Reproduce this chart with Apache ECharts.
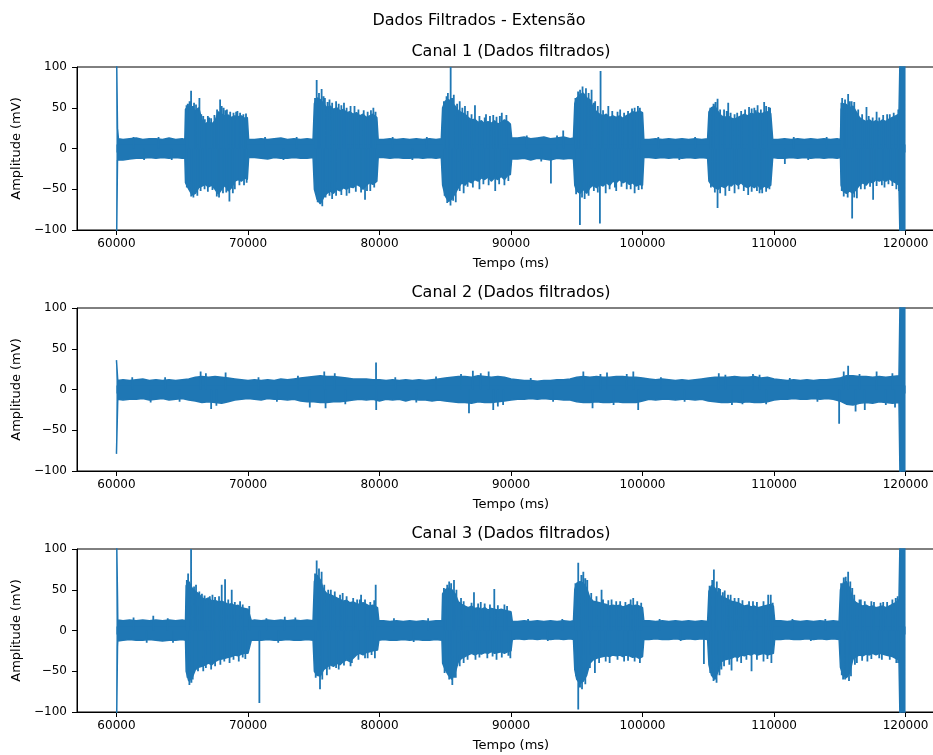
<!DOCTYPE html>
<html><head><meta charset="utf-8">
<script src="https://cdn.jsdelivr.net/npm/echarts@6/dist/echarts.min.js"></script>
<style>html,body{margin:0;padding:0;background:#fff;overflow:hidden;width:933px;height:755px}#c{width:960px;height:755px}</style>
</head><body><div id="c"></div>
<script>
// ---------- data ----------
const xTicks = [60000, 70000, 80000, 90000, 100000, 110000, 120000];
const yTicks = [-100, -50, 0, 50, 100];
const tituloGeral = 'Dados Filtrados - Extensão';
const titulosCanais = ['Canal 1 (Dados filtrados)', 'Canal 2 (Dados filtrados)', 'Canal 3 (Dados filtrados)'];
const rotuloX = 'Tempo (ms)';
const rotuloY = 'Amplitude (mV)';

// envelope of each channel: [tempo ms, máximo mV, mínimo mV]
const canal1 = [
[60000,130,-130],[60060,130,-130],[60080,25,-14],[60150,12,-14],[60500,11,-14],[61000,12,-13],[61500,13,-12],[62000,11,-12],[62500,12,-11],[63000,12,-12],[63500,11,-11],[64000,13,-12],[64500,11,-11],[65000,12,-12],[65200,11,-11],
[65250,48,-42],[65500,52,-50],[65750,50,-57],[66000,46,-55],[66250,50,-48],[66500,35,-46],[66750,30,-44],[67000,33,-47],[67250,30,-45],[67500,34,-50],[67750,45,-56],[68000,42,-50],[68250,40,-45],[68500,41,-52],[68750,38,-48],[69000,40,-40],[69250,39,-38],[69500,40,-40],[69750,37,-36],[69950,38,-38],
[70050,11,-11],[70500,11,-11],[71000,12,-12],[71500,11,-13],[72000,12,-11],[72500,13,-12],[73000,11,-12],[73500,12,-11],[74000,11,-12],[74500,12,-12],[74950,11,-11],
[75050,55,-50],[75250,62,-62],[75500,60,-68],[75750,55,-60],[76000,50,-55],[76250,52,-52],[76500,48,-55],[76750,50,-50],[77000,46,-52],[77250,48,-48],[77500,44,-50],[77750,45,-47],[78000,42,-48],[78250,44,-44],[78500,40,-46],[78750,42,-50],[79000,38,-45],[79250,40,-42],[79500,42,-44],[79800,38,-40],
[79900,11,-11],[80300,11,-11],[80800,12,-12],[81300,11,-11],[81800,12,-12],[82300,11,-12],[82800,12,-11],[83300,11,-12],[83800,12,-11],[84300,11,-12],[84700,12,-11],
[84800,50,-45],[85000,58,-58],[85250,60,-65],[85500,56,-62],[85750,52,-55],[86000,46,-48],[86250,44,-42],[86500,42,-45],[86750,38,-40],[87000,35,-42],[87250,36,-38],[87500,32,-40],[87750,34,-36],[88000,30,-38],[88250,33,-35],[88500,31,-40],[88750,34,-36],[89000,30,-38],[89250,32,-34],[89500,35,-38],[89750,33,-33],[89950,30,-32],
[90050,13,-13],[90500,13,-13],[91000,14,-12],[91500,12,-14],[92000,13,-12],[92500,14,-13],[93000,12,-14],[93500,13,-12],[94000,14,-13],[94500,12,-12],[94750,13,-13],
[94850,55,-45],[95000,62,-52],[95250,66,-55],[95500,68,-50],[95750,62,-55],[96000,60,-48],[96250,50,-45],[96500,45,-48],[96750,42,-44],[97000,40,-46],[97250,42,-42],[97500,38,-45],[97750,40,-40],[98000,38,-42],[98250,40,-38],[98500,37,-42],[98750,40,-40],[99000,42,-44],[99250,45,-42],[99500,44,-46],[99750,46,-44],[100000,44,-45],
[100100,11,-11],[100500,11,-11],[101000,12,-12],[101500,11,-11],[102000,12,-12],[102500,11,-11],[103000,12,-12],[103500,11,-11],[104000,12,-12],[104500,11,-11],[104950,12,-12],
[105050,45,-40],[105250,50,-45],[105500,52,-48],[105750,45,-50],[106000,40,-46],[106250,38,-48],[106500,40,-44],[106750,37,-46],[107000,36,-42],[107250,38,-45],[107500,40,-42],[107750,42,-46],[108000,40,-48],[108250,43,-45],[108500,42,-48],[108750,44,-44],[109000,42,-50],[109250,44,-46],[109500,45,-48],[109750,43,-45],
[109900,11,-11],[110300,11,-12],[110800,12,-12],[111300,11,-11],[111800,12,-12],[112300,11,-11],[112800,12,-12],[113300,11,-11],[113800,12,-12],[114300,11,-11],[114800,12,-12],[115050,11,-11],
[115100,48,-45],[115250,55,-52],[115500,54,-55],[115750,50,-52],[116000,52,-55],[116250,45,-50],[116500,38,-45],[116750,35,-42],[117000,33,-45],[117250,35,-40],[117500,32,-42],[117750,34,-38],[118000,32,-40],[118250,35,-38],[118500,33,-40],[118750,36,-37],[119000,38,-40],[119250,40,-42],[119500,42,-45],[119590,42,-45],
[119600,130,-130],[120000,130,-130]
];
const canal2 = [
[60000,36,-79],[60060,36,-79],[60100,11,-12],[60500,12,-13],[61000,11,-12],[61500,12,-12],[62000,13,-11],[62500,11,-13],[63000,12,-12],[63500,11,-11],[64000,12,-13],[64500,11,-12],[65000,12,-11],
[65500,13,-13],[66000,15,-14],[66500,16,-16],[67000,15,-15],[67500,16,-16],[68000,15,-17],[68500,14,-15],[69000,13,-13],[69500,12,-12],[70000,11,-11],[70500,12,-12],[71000,11,-13],[71500,12,-11],[72000,11,-12],[72500,13,-12],[73000,12,-13],[73500,13,-12],
[74000,14,-14],[74500,15,-15],[75000,16,-15],[75500,17,-16],[76000,16,-16],[76500,16,-15],[77000,15,-15],[77500,14,-14],[78000,13,-13],[78500,13,-12],[79000,13,-13],[79500,12,-12],[80000,12,-14],[80500,11,-12],[81000,12,-13],[81500,11,-12],[82000,12,-14],[82500,11,-12],[83000,12,-13],[83500,11,-13],[84000,12,-14],[84500,13,-13],
[85000,14,-14],[85500,15,-15],[86000,16,-16],[86500,16,-16],[87000,15,-17],[87500,17,-15],[88000,16,-16],[88500,15,-16],[89000,16,-15],[89500,15,-14],[90000,13,-13],[90500,12,-12],[91000,11,-12],[91500,11,-11],[92000,10,-12],[92500,11,-11],[93000,11,-12],[93500,12,-12],[94000,12,-13],[94500,13,-13],
[95000,15,-15],[95500,16,-16],[96000,15,-16],[96500,16,-15],[97000,15,-16],[97500,15,-16],[98000,16,-15],[98500,16,-16],[99000,15,-16],[99500,15,-16],[100000,14,-14],[100500,13,-12],[101000,12,-13],[101500,13,-12],[102000,12,-12],[102500,11,-13],[103000,12,-12],[103500,11,-12],[104000,12,-13],[104500,13,-12],
[105000,14,-14],[105500,15,-15],[106000,15,-16],[106500,15,-16],[107000,16,-15],[107500,15,-16],[108000,15,-15],[108500,16,-16],[109000,14,-16],[109500,15,-15],[110000,13,-13],[110500,12,-12],[111000,11,-12],[111500,12,-11],[112000,11,-12],[112500,12,-12],[113000,11,-11],[113500,12,-12],[114000,12,-11],[114500,13,-12],
[115000,14,-14],[115500,17,-18],[116000,17,-19],[116500,16,-17],[117000,16,-16],[117500,15,-17],[118000,16,-15],[118500,15,-16],[119000,16,-17],[119500,17,-16],[119590,16,-16],
[119600,130,-130],[120000,130,-130]
];
const canal3 = [
[60000,130,-130],[60060,130,-130],[60080,42,-20],[60100,13,-13],[60500,12,-12],[61000,13,-11],[61500,12,-12],[62000,13,-12],[62500,12,-11],[63000,13,-12],[63500,12,-13],[64000,13,-12],[64500,12,-12],[65000,13,-11],[65250,12,-12],
[65300,55,-50],[65500,60,-62],[65750,52,-58],[66000,48,-48],[66250,45,-45],[66500,40,-44],[66750,38,-42],[67000,40,-40],[67250,36,-42],[67500,37,-38],[67750,35,-36],[68000,36,-35],[68250,34,-34],[68500,32,-33],[68750,33,-32],[69000,30,-30],[69250,31,-31],[69500,28,-29],[69750,27,-28],[70000,26,-28],[70150,25,-26],
[70250,12,-12],[70500,13,-12],[71000,12,-12],[71500,13,-11],[72000,12,-12],[72500,13,-12],[73000,12,-11],[73500,13,-12],[74000,12,-12],[74500,13,-11],[74950,12,-12],
[75050,60,-50],[75250,68,-55],[75500,62,-56],[75750,50,-48],[76000,45,-45],[76250,44,-42],[76500,42,-44],[76750,40,-40],[77000,38,-42],[77250,36,-38],[77500,37,-36],[77750,34,-38],[78000,35,-34],[78250,33,-30],[78500,32,-28],[78750,34,-30],[79000,32,-27],[79250,30,-26],[79500,31,-25],[79850,28,-24],
[79950,12,-12],[80300,12,-11],[80800,11,-12],[81300,12,-12],[81800,11,-11],[82300,12,-12],[82800,11,-11],[83300,12,-12],[83800,11,-12],[84300,12,-11],[84750,12,-12],
[84800,45,-40],[85000,50,-48],[85250,52,-55],[85500,50,-60],[85750,45,-52],[86000,35,-38],[86250,32,-34],[86500,30,-32],[86750,28,-30],[87000,30,-28],[87250,27,-30],[87500,28,-28],[87750,26,-29],[88000,28,-27],[88250,25,-28],[88500,27,-26],[88750,26,-28],[89000,25,-27],[89250,26,-26],[89500,25,-28],[89750,24,-26],[90000,23,-25],
[90100,11,-11],[90500,11,-10],[91000,12,-11],[91500,11,-10],[92000,12,-11],[92500,11,-10],[93000,12,-11],[93500,11,-10],[94000,12,-11],[94500,11,-10],[94750,12,-11],
[94850,50,-48],[95000,58,-60],[95250,60,-65],[95500,58,-62],[95750,52,-55],[96000,40,-40],[96250,36,-36],[96500,35,-34],[96750,34,-33],[97000,33,-32],[97250,32,-31],[97500,30,-32],[97750,31,-30],[98000,30,-31],[98250,31,-30],[98500,29,-32],[98750,30,-30],[99000,32,-31],[99250,30,-33],[99500,31,-32],[99750,30,-34],[100000,28,-32],
[100100,12,-11],[100500,12,-11],[101000,11,-10],[101500,12,-11],[102000,11,-11],[102500,12,-10],[103000,11,-11],[103500,12,-10],[104000,11,-11],[104500,12,-10],[104950,11,-11],
[105050,48,-42],[105250,55,-55],[105500,52,-60],[105750,45,-50],[106000,42,-38],[106250,40,-36],[106500,38,-35],[106750,36,-34],[107000,35,-32],[107250,34,-33],[107500,32,-30],[107750,30,-31],[108000,31,-29],[108250,29,-30],[108500,30,-28],[108750,28,-30],[109000,29,-29],[109250,30,-28],[109500,31,-30],[109750,32,-29],[109950,30,-28],
[110050,12,-11],[110500,12,-11],[111000,11,-10],[111500,12,-11],[112000,11,-11],[112500,12,-10],[113000,11,-11],[113500,12,-10],[114000,11,-11],[114500,12,-10],[114950,11,-11],
[115050,50,-45],[115250,58,-55],[115500,60,-58],[115750,52,-52],[116000,38,-35],[116250,34,-32],[116500,32,-30],[116750,30,-31],[117000,31,-29],[117250,29,-30],[117500,30,-28],[117750,28,-30],[118000,29,-28],[118250,30,-29],[118500,28,-30],[118750,30,-31],[119000,32,-32],[119250,34,-34],[119500,38,-36],[119590,38,-36],
[119600,130,-130],[120000,130,-130]
];

// isolated peaks: [tempo ms, valor mV]
const picos1 = [
[65420,55],[65674,71],[65900,56],[66308,62],[66600,40],[67050,38],[67882,60],[68150,50],[68400,48],[69200,46],[69650,42],[65680,-59],[66150,-58],[67630,-59],[68590,-65],[69000,-50],[69700,-45],
[65330,53],[65560,58],[65780,52],[66050,54],[66450,42],[66720,36],[66950,40],[67200,37],[67450,41],[67650,48],[68000,52],[68300,47],[68650,45],[68900,44],[69100,45],[69400,44],[69850,43],
[65350,-48],[65850,-60],[66400,-52],[66700,-50],[66950,-53],[67300,-51],[67800,-60],[68100,-55],[68350,-54],[68850,-55],[69350,-45],[69900,-42],
[75224,84],[75600,73],[75850,62],[76200,60],[76700,58],[77300,56],[78100,52],[79535,50],[75650,-71],[76400,-62],[77500,-58],[78900,-63],[79300,-52],
[75100,62],[75400,68],[75750,64],[76050,57],[76400,56],[76900,55],[77100,53],[77500,50],[77800,52],[78400,48],[78800,47],[79100,45],[79350,47],[79700,45],
[75300,-66],[75900,-60],[76200,-58],[76700,-58],[77100,-57],[77700,-55],[78200,-53],[78600,-54],[79050,-52],[79600,-48],
[85412,100],[85200,68],[85650,66],[86100,58],[86500,52],[87260,53],[88100,42],[88650,41],[89300,44],[85400,-70],[85800,-66],[86400,-55],[87600,-50],[88800,-52],[89500,-45],
[84900,58],[85100,64],[85550,62],[85900,55],[86300,50],[86700,46],[87000,42],[87600,40],[88000,38],[88400,40],[88900,39],[89150,40],[89650,41],
[84950,-58],[85150,-67],[85600,-64],[86100,-52],[86700,-47],[87100,-48],[87900,-44],[88300,-45],[89100,-44],[89800,-40],
[93036,-43],[93970,22],
[95100,70],[95440,76],[95700,74],[96127,72],[96400,58],[96810,95],[97400,52],[98300,48],[99200,49],[99800,50],[95240,-94],[95600,-62],[96760,-92],[97200,-55],[98000,-52],[98800,-50],[99400,-55],
[94900,62],[95250,72],[95900,68],[96300,56],[96600,52],[97000,47],[97700,46],[98100,45],[98600,44],[98900,46],[99400,50],[99650,52],
[94950,-56],[95400,-60],[95900,-58],[96300,-52],[96600,-54],[97500,-50],[97900,-48],[98400,-47],[99100,-50],[99700,-51],[99950,-50],
[105706,61],[105400,55],[106516,56],[106200,48],[107200,44],[108100,51],[108500,50],[108750,53],[109250,57],[109600,51],[105706,-73],[106300,-58],[107000,-55],[108036,-57],[108900,-55],[109400,-53],
[105150,50],[105550,57],[105900,48],[106400,46],[106700,44],[107000,42],[107500,46],[107800,48],[108300,49],[108600,47],[109000,48],[109400,52],[109700,50],
[105200,-48],[105500,-54],[105900,-55],[106600,-52],[107300,-50],[107700,-52],[108300,-53],[108700,-52],[109100,-55],[109650,-50],
[110823,-19],
[115180,62],[115635,67],[115900,58],[117030,51],[117800,45],[118600,42],[115940,-86],[115300,-59],[116300,-61],[117535,-63],[118400,-48],[119300,-50],
[115120,56],[115400,60],[115750,58],[116100,57],[116400,48],[116700,42],[117200,40],[117500,38],[118000,38],[118300,41],[118800,42],[119100,44],[119450,48],
[115150,-52],[115600,-60],[116100,-60],[116600,-50],[116900,-50],[117300,-47],[117800,-46],[118200,-45],[118700,-44],[119000,-46],[119500,-52],
[61300,14],[62100,-14],[63200,14],[64200,-14],[71300,14],[72700,-14],[73700,14],[81000,14],[82500,-14],[83600,14],[91200,16],[92300,-16],[93500,16],[101200,14],[102800,-14],[104000,14],[111500,14],[112600,-14],[114000,14]
];
const picos2 = [
[66400,22],[67200,-24],[68300,21],[74700,-22],[75800,22],[75900,-23],[79738,33],[79750,-25],[84300,16],[86805,-29],[87100,23],[88650,-25],[89000,-21],[88300,22],
[95500,22],[96200,-23],[97300,21],[99672,-25],[99300,22],[105800,20],[106800,-19],[108400,19],[109400,-18],[114951,-42],[115635,29],[115300,22],[116200,-27],[116900,-25],[117800,22],[119200,-22],
[61200,15],[62600,-16],[63700,15],[64800,-15],[66800,20],[67600,-20],[70800,15],[72200,-15],[73800,17],[76600,20],[77400,-18],[81200,15],[82800,-16],[86200,19],[87700,20],[89400,-19],
[91500,14],[93200,-15],[96800,19],[97800,-19],[98800,19],[101400,15],[103200,-15],[106300,18],[107600,-18],[108900,18],[111200,14],[113300,-15],[116500,19],[118500,-19],[119000,20]
];
const picos3 = [
[65674,100],[65450,70],[66050,56],[66500,45],[67300,44],[68004,56],[68258,63],[68765,50],[69400,36],[65547,-67],[65800,-60],[66600,-50],[67200,-48],[67900,-42],[68600,-40],[69300,-38],[69800,-35],
[65350,62],[65900,54],[66300,48],[66700,43],[67100,42],[67500,41],[67800,42],[68500,38],[69000,35],[69600,32],[70100,30],
[65400,-58],[65700,-64],[66200,-50],[66800,-46],[67500,-44],[68200,-38],[68900,-36],[69600,-33],
[70867,-89],[72800,17],
[75224,86],[75600,72],[76300,50],[77200,46],[78600,44],[79712,56],[78500,38],[75477,-72],[76000,-55],[76900,-48],[77800,-44],[79100,-34],[79650,-34],
[75100,70],[75400,76],[75800,56],[76100,50],[76600,48],[77000,44],[77500,42],[78000,40],[78300,38],[78900,38],[79300,35],[79600,37],
[75150,-58],[75650,-60],[76200,-48],[76700,-46],[77300,-43],[77900,-40],[78400,-36],[78900,-34],[79400,-30],
[85300,60],[85665,62],[86200,40],[87185,47],[87700,35],[88730,51],[89500,32],[85538,-67],[85800,-58],[86400,-40],[87300,-36],[88900,-36],[89950,-34],
[84900,52],[85150,56],[85450,58],[85850,50],[86400,36],[87000,34],[87500,33],[88000,33],[88400,32],[89000,31],[89700,30],
[84950,-52],[85300,-60],[85700,-58],[86100,-44],[86700,-36],[87600,-33],[88200,-34],[88600,-32],[89300,-33],[89800,-31],
[95113,83],[95500,72],[95800,62],[96886,50],[97647,38],[98300,36],[99293,40],[99900,34],[95113,-97],[95400,-72],[96380,-52],[97500,-40],[98600,-38],[99800,-40],
[94900,58],[95350,68],[95650,64],[96100,46],[96500,42],[97000,38],[97400,37],[98000,36],[98700,35],[99100,38],[99600,36],
[94950,-56],[95250,-70],[95650,-66],[96000,-46],[96700,-40],[97200,-38],[98100,-36],[98900,-37],[99400,-38],
[104667,-41],
[105427,75],[105650,60],[105900,51],[106250,49],[106700,44],[107300,40],[108400,36],[109556,44],[109750,44],[105630,-64],[106000,-48],[106770,-49],[107500,-40],[108290,-50],[109200,-38],[109800,-40],
[105100,55],[105300,62],[105800,52],[106100,47],[106500,44],[107000,40],[107600,37],[108100,36],[108700,35],[109200,36],[109900,34],
[105150,-52],[105400,-62],[105850,-55],[106200,-44],[106600,-42],[107200,-38],[107900,-36],[108700,-36],[109500,-35],
[115635,72],[115300,65],[115950,52],[116600,38],[117400,36],[118300,35],[119400,42],[115250,-60],[115700,-62],[116300,-40],[117100,-38],[118200,-36],[119450,-40],
[115100,58],[115450,66],[115800,60],[116100,44],[116500,38],[116900,36],[117600,35],[118100,34],[118600,35],[119000,38],[119250,40],
[115150,-55],[115400,-60],[115850,-56],[116150,-42],[116700,-37],[117400,-35],[118000,-34],[118800,-36],[119300,-40],
[61300,16],[62800,18],[63900,15],[62300,-15],[64300,-15],[71400,15],[72300,-15],[73600,16],[81100,15],[82600,-14],[83700,15],[91300,14],[92800,-13],[93900,14],[101300,14],[102900,-13],[111400,14],[112800,-13],[113900,14]
];

// ---------- chart ----------
const BLUE = '#1f77b4';
const FONT = 'DejaVu Sans';
const canais = [canal1, canal2, canal3];
const picos = [picos1, picos2, picos3];
const gridTops = [67, 308, 549];
const minus = v => String(v).replace('-', '\u2212');

const grids = [], xAxes = [], yAxes = [], series = [], titles = [];
titles.push({text: tituloGeral, left: 479, top: 12, textAlign: 'center', padding: 0,
  textStyle: {fontFamily: FONT, fontSize: 16, fontWeight: 'normal', color: '#000', lineHeight: 18}});

canais.forEach((rows, i) => {
  grids.push({left: 77, top: gridTops[i], width: 868, height: 163, show: true,
    borderColor: '#000', borderWidth: 1, backgroundColor: 'transparent'});
  titles.push({text: titulosCanais[i], left: 511, top: gridTops[i] - 24, textAlign: 'center', padding: 0,
    textStyle: {fontFamily: FONT, fontSize: 16, fontWeight: 'normal', color: '#000', lineHeight: 18}});
  xAxes.push({gridIndex: i, type: 'value', min: 57000, max: 123000,
    axisLine: {show: true, onZero: false, lineStyle: {color: '#000', width: 1}},
    axisTick: {show: true, length: 5, customValues: xTicks, lineStyle: {color: '#000', width: 1}},
    axisLabel: {customValues: xTicks, formatter: v => String(v), fontFamily: FONT, fontSize: 12, color: '#000', margin: 8},
    splitLine: {show: false},
    name: rotuloX, nameLocation: 'middle', nameGap: 27,
    nameTextStyle: {fontFamily: FONT, fontSize: 13, color: '#000'}});
  yAxes.push({gridIndex: i, type: 'value', min: -100, max: 100, interval: 50,
    axisLine: {show: true, onZero: false, lineStyle: {color: '#000', width: 1}},
    axisTick: {show: true, length: 5, customValues: yTicks, lineStyle: {color: '#000', width: 1}},
    axisLabel: {customValues: yTicks, formatter: minus, fontFamily: FONT, fontSize: 12, color: '#000', margin: 10},
    splitLine: {show: false},
    name: rotuloY, nameLocation: 'middle', nameGap: 51, nameRotate: 90,
    nameTextStyle: {fontFamily: FONT, fontSize: 13, color: '#000'}});
  // upper envelope, filled down past zero
  series.push({type: 'line', xAxisIndex: i, yAxisIndex: i, symbol: 'none', silent: true, clip: true,
    data: rows.map(r => [r[0], r[1]]),
    lineStyle: {color: BLUE, width: 1.5}, areaStyle: {color: BLUE, opacity: 1, origin: -5}});
  // lower envelope, filled up past zero
  series.push({type: 'line', xAxisIndex: i, yAxisIndex: i, symbol: 'none', silent: true, clip: true,
    data: rows.map(r => [r[0], r[2]]),
    lineStyle: {color: BLUE, width: 1.5}, areaStyle: {color: BLUE, opacity: 1, origin: 5}});
  // isolated peaks
  const pk = [];
  picos[i].forEach(p => { pk.push([p[0], 0], [p[0], p[1]], [p[0], '-']); });
  series.push({type: 'line', xAxisIndex: i, yAxisIndex: i, symbol: 'none', silent: true, clip: true,
    connectNulls: false, data: pk, lineStyle: {color: BLUE, width: 1.8}});
});

const chart = echarts.init(document.getElementById('c'), null, {renderer: 'canvas'});
chart.setOption({animation: false, backgroundColor: '#fff', title: titles,
  grid: grids, xAxis: xAxes, yAxis: yAxes, series: series});
</script></body></html>
